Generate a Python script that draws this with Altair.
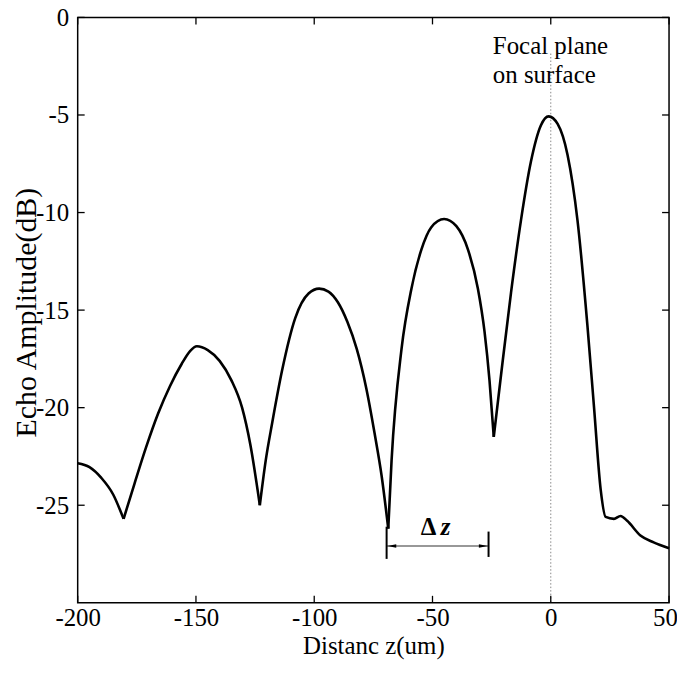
import altair as alt
import pandas as pd

# ---- data ----
seg0_x = [-200, -195, -190, -185, -180.6]
seg0_y = [-22.85, -23.05, -23.6, -24.45, -25.7]
seg1_x = [-180.6, -176.0, -171.0, -166.0, -161.0, -156.0, -152.5, -149.6, -145.0, -140.0, -135.0, -130.5, -127.0, -123.0]
seg1_y = [-25.7, -23.9, -22.0, -20.3, -18.9, -17.75, -17.1, -16.85, -17.05, -17.6, -18.6, -20.0, -21.9, -25.0]
seg2_x = [-123.0, -120.5, -117.8, -113.6, -108.0, -102.4, -97.9, -94.0, -90.0, -86.0, -82.0, -78.0, -74.5, -71.5, -68.7]
seg2_y = [-25.0, -22.7, -20.8, -18.1, -15.4, -14.15, -13.9, -14.05, -14.6, -15.6, -17.0, -19.0, -21.3, -23.5, -26.2]
seg3_x = [-68.7, -67.3, -63.1, -58.9, -54.7, -50.5, -45.1, -39.9, -35.0, -30.8, -28.0, -25.9, -24.1]
seg3_y = [-26.2, -22.7, -17.0, -13.9, -11.9, -10.75, -10.33, -10.7, -11.9, -13.9, -16.1, -18.6, -21.5]
seg4_x = [-24.1, -21.0, -16.8, -12.6, -8.4, -4.2, -0.9, 2.9, 7.1, 11.3, 15.5, 18.3, 21.1, 23.2,
          26.7, 29.5, 32.3, 37.9, 43.5, 50.0]
seg4_y = [-21.5, -18.3, -14.1, -10.4, -7.4, -5.54, -5.07, -5.46, -7.05, -10.4, -15.8, -20.0, -24.2, -25.6,
          -25.7, -25.55, -25.8, -26.55, -26.9, -27.2]

x_ticks = [-200, -150, -100, -50, 0, 50]
y_ticks = [0, -5, -10, -15, -20, -25]

focal_lines = ["Focal plane", "on surface"]

W, H = 594, 588
PAD_TOP = 8
XDOM = [-200, 50]
YDOM = [-30, 0]
FONT = "Liberation Serif"

rows = []
for i, (xs, ys) in enumerate([(seg0_x, seg0_y), (seg1_x, seg1_y), (seg2_x, seg2_y),
                              (seg3_x, seg3_y), (seg4_x, seg4_y)]):
    for a, b in zip(xs, ys):
        rows.append({"x": a, "y": b, "seg": i})
curve = pd.DataFrame(rows)


def X():
    return alt.X("x:Q", scale=alt.Scale(domain=XDOM, nice=False, zero=False),
                 axis=alt.Axis(title="Distanc z(um)", values=x_ticks, labelExpr="'' + datum.value",
                               labelFlush=False,
                               labelOffset={"condition": {"test": "datum.value === 50", "value": -4}, "value": 0},
                               titleX=297, titleY=51, titleBaseline="alphabetic",
                               titleAnchor="middle", titleAlign="center"))


def Y():
    return alt.Y("y:Q", scale=alt.Scale(domain=YDOM, nice=False, zero=False),
                 axis=alt.Axis(title="Echo Amplitude(dB)", values=y_ticks, labelExpr="'' + datum.value",
                               labelFlush=False,
                               titleX=-42, titleY=312 - 8 - PAD_TOP, titleAngle=-90, titleBaseline="alphabetic",
                               titleAlign="center", titleAnchor="middle"))


line = alt.Chart(curve).mark_line(color="black", strokeWidth=2.6, interpolate="monotone").encode(
    x=X(), y=Y(), detail="seg:N")

xt = pd.DataFrame({"x": x_ticks})
yt = pd.DataFrame({"y": y_ticks})
tick_b = alt.Chart(xt).mark_rule(color="black", strokeWidth=1.3).encode(
    x=X(), y=alt.value(H), y2=alt.value(H - 7))
tick_t = alt.Chart(xt).mark_rule(color="black", strokeWidth=1.3).encode(
    x=X(), y=alt.value(0), y2=alt.value(7))
tick_l = alt.Chart(yt).mark_rule(color="black", strokeWidth=1.3).encode(
    y=Y(), x=alt.value(0), x2=alt.value(7))
tick_r = alt.Chart(yt).mark_rule(color="black", strokeWidth=1.3).encode(
    y=Y(), x=alt.value(W), x2=alt.value(W - 7))

focal = alt.Chart(pd.DataFrame({"x": [0], "y": [-1.85], "y2": [-30]})).mark_rule(
    color="#888888", strokeWidth=1, strokeDash=[1.5, 2]).encode(x=X(), y=Y(), y2="y2:Q")

ftxt = alt.Chart(pd.DataFrame({"x": [-24.5, -24.5], "y": [-1.85, -3.37], "t": focal_lines})).mark_text(
    font=FONT, fontSize=25, align="left", baseline="alphabetic", color="black").encode(
    x=X(), y=Y(), text="t:N")

# delta z bracket
hbar = alt.Chart(pd.DataFrame({"x": [-69.4], "x2": [-26.3], "y": [-27.09]})).mark_rule(
    color="#333333", strokeWidth=1.2).encode(x=X(), x2="x2:Q", y=Y())
vbars = alt.Chart(pd.DataFrame({"x": [-69.4, -26.3], "y": [-26.1, -26.35], "y2": [-27.75, -27.65]})).mark_rule(
    color="black", strokeWidth=2).encode(x=X(), y=Y(), y2="y2:Q")
heads = alt.Chart(pd.DataFrame({"x": [-67.2, -28.5], "y": [-27.09, -27.09],
                                "s": ["M-1,0L1,-0.4L1,0.4Z", "M1,0L-1,-0.4L-1,0.4Z"]})).mark_point(
    filled=True, color="black", size=80, opacity=1).encode(
    x=X(), y=Y(), shape=alt.Shape("s:N", scale=None))
dtxt = alt.Chart(pd.DataFrame({"x": [-48.4], "y": [-26.5], "t": ["Δ"]})).mark_text(
    font=FONT, fontSize=25, fontWeight="bold", align="right", baseline="alphabetic", color="black").encode(
    x=X(), y=Y(), text="t:N")
ztxt = alt.Chart(pd.DataFrame({"x": [-46.5], "y": [-26.5], "t": ["z"]})).mark_text(
    font=FONT, fontSize=25, fontWeight="bold", fontStyle="italic", align="left",
    baseline="alphabetic", color="black").encode(x=X(), y=Y(), text="t:N")

chart = alt.layer(focal, line, tick_b, tick_t, tick_l, tick_r, ftxt, hbar, vbars, heads, dtxt, ztxt).properties(
    width=W, height=H,
    autosize=alt.AutoSizeParams(type="none"),
    padding={"left": 70, "top": PAD_TOP, "right": 8, "bottom": 57},
).configure_view(stroke="black", strokeWidth=1.5).configure_axis(
    domain=False, ticks=False, tickSize=0, grid=False,
    labelFont=FONT, labelFontSize=25, labelColor="black", labelPadding=3,
    titleFont=FONT, titleColor="black", titleFontWeight="normal",
).configure_axisX(titleFontSize=25).configure_axisY(titleFontSize=30, labelPadding=9)

chart.save("out.html", embed_options={"renderer": "svg", "actions": False})
